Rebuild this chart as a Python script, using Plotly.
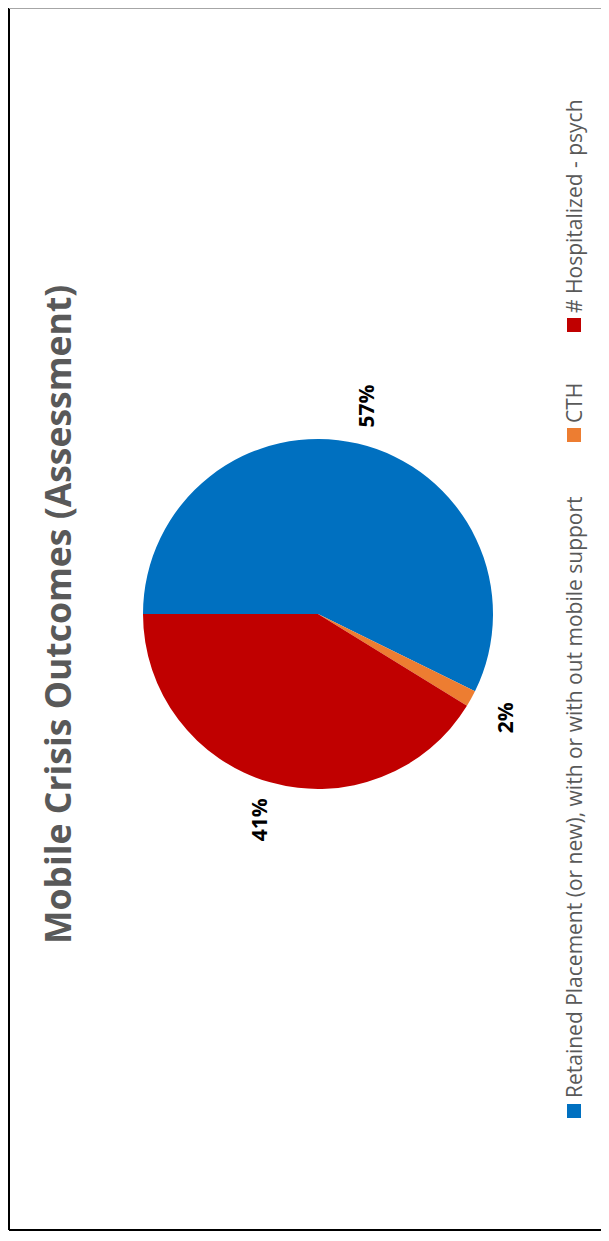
import math
import plotly.graph_objects as go

# ---- data ----
categories = ["Retained Placement (or new), with or with out mobile support", "CTH", "# Hospitalized - psych"]
values = [114, 3, 82]
colors = ["#0070C0", "#ED7D31", "#C00000"]
title_text = "Mobile Crisis Outcomes (Assessment)"

OFF = 8                     # page body margin
W, H = 601, 1233            # figure size (fits the 609x1241 window)
CX, CY, R = 318, 614, 175   # pie centre / radius in page pixels


def px(x):
    return (x - OFF) / W


def py(y):
    return 1 - (y - OFF) / H


fig = go.Figure()
fig.add_trace(go.Pie(
    labels=categories,
    values=values,
    marker=dict(colors=colors, line=dict(width=0)),
    sort=False,
    direction="clockwise",
    rotation=270,
    textinfo="none",
    hoverinfo="label+percent",
    showlegend=False,
    domain=dict(x=[px(CX - R), px(CX + R)], y=[py(CY + R), py(CY - R)]),
))

annotations = []
# percentage labels, placed from the data (rotated chart)
total = sum(values)
cum = 0
for v in values:
    frac = v / total
    mid = 270 + (cum + frac / 2) * 360  # compass angle, clockwise from 12 o'clock
    cum += frac
    a = math.radians(mid)
    d = R * 1.22
    lx = CX + d * math.sin(a)
    ly = CY - d * math.cos(a)
    annotations.append(dict(
        x=px(lx), y=py(ly), xref="paper", yref="paper",
        text=f"<b>{round(frac * 100)}%</b>", showarrow=False, textangle=-90,
        font=dict(family="Open Sans", size=21, color="#000000"),
        xanchor="center", yanchor="middle",
    ))

# title (rotated)
annotations.append(dict(
    x=px(57), y=py(615), xref="paper", yref="paper",
    text=f"<b>{title_text}</b>", showarrow=False, textangle=-90,
    font=dict(family="Open Sans", size=35.5, color="#595959"),
    xanchor="center", yanchor="middle",
))

# rotated legend
legend_square_y = [1111, 435, 325]
legend_text_y = [1099, 424, 314]
shapes = []
for cat, col, sy, ty in zip(categories, colors, legend_square_y, legend_text_y):
    shapes.append(dict(type="rect", xref="paper", yref="paper",
                       x0=px(567), x1=px(581), y0=py(sy + 7), y1=py(sy - 7),
                       fillcolor=col, line=dict(width=0)))
    annotations.append(dict(
        x=px(574), y=py(ty), xref="paper", yref="paper",
        text=cat, showarrow=False, textangle=-90,
        font=dict(family="Open Sans", size=21, color="#595959"),
        xanchor="center", yanchor="bottom", borderpad=0,
    ))

# chart border
shapes.append(dict(type="line", xref="paper", yref="paper", x0=px(9), x1=px(9), y0=1.0, y1=py(1230),
                   line=dict(color="#000000", width=2)))
shapes.append(dict(type="line", xref="paper", yref="paper", x0=px(9), x1=1.0, y0=py(1230), y1=py(1230),
                   line=dict(color="#000000", width=2)))
shapes.append(dict(type="line", xref="paper", yref="paper", x0=px(9), x1=1.0, y0=py(8.5), y1=py(8.5),
                   line=dict(color="#A6A6A6", width=1)))

fig.update_layout(
    width=W, height=H,
    margin=dict(l=0, r=0, t=0, b=0),
    paper_bgcolor="#FFFFFF",
    plot_bgcolor="#FFFFFF",
    annotations=annotations,
    shapes=shapes,
    showlegend=False,
)

fig.write_html("out.html")
